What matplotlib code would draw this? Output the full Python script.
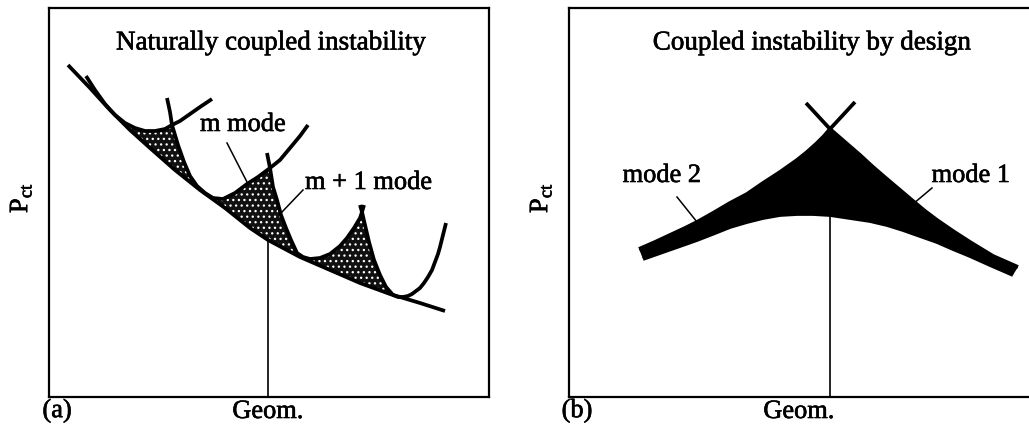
import numpy as np
import matplotlib
matplotlib.use('Agg')
import matplotlib.pyplot as plt
import matplotlib.patheffects as pe

plt.rcParams['font.family'] = ['Liberation Serif', 'DejaVu Serif']
plt.rcParams['mathtext.fontset'] = 'custom'
plt.rcParams['mathtext.rm'] = 'Liberation Serif'
plt.rcParams['hatch.linewidth'] = 0.9

# ---- (a) naturally coupled instability: modal curves and coupled envelope ----
env_a_x = np.array([19, 41, 61, 81, 101, 126, 151, 176, 201, 219, 251, 281, 311, 341, 371, 396])
env_a_y = np.array([332, 309, 287, 267, 249, 227, 207, 189, 169, 157, 140, 127, 114, 103, 94, 86])

mode1_x = np.array([37, 46, 56, 66, 76, 86, 96, 106, 116, 123, 131, 141, 151, 163])
mode1_y = np.array([321, 307, 293, 282, 274, 269, 266, 266, 268, 272, 276, 283, 290, 298])

mode2_x = np.array([118, 121, 123, 129, 135, 141, 148, 156, 164, 174, 186, 198, 209, 221, 231, 241, 251, 259])
mode2_y = np.array([299, 285, 272, 252, 235, 221, 211, 204, 199, 198, 204, 213, 220, 229, 237, 249, 261, 272])

mode3_x = np.array([218, 221, 224, 228, 232, 237, 242, 248, 254, 261, 271, 281, 291, 298, 305, 311, 313, 315])
mode3_y = np.array([244, 229, 210, 197, 182, 169, 157, 144, 140, 138, 139, 143, 151, 159, 169, 179, 185, 192])

mode4_x = np.array([311, 313, 316, 320, 325, 331, 337, 344, 349, 354, 359, 363, 367, 371, 375, 379, 383, 386, 389, 391, 394, 397])
mode4_y = np.array([192, 185, 172, 155, 137, 122, 110, 102, 100, 100, 101, 103, 106, 109, 114, 120, 127, 135, 143, 150, 162, 174])

geom_a = 219  # design geometry marked by the vertical line

# ---- (b) coupled instability by design ----
env_b_x = np.array([74, 91, 111, 128, 146, 161, 178, 194, 211, 228, 244, 261, 281, 301, 318, 334, 351, 368, 384, 401, 421, 444])
env_b_y = np.array([138, 144, 151, 157, 164, 170, 175, 179, 182, 183, 183, 182, 179, 176, 172, 167, 161, 155, 148, 141, 132, 122])

m2_b_x = np.array([70, 86, 101, 116, 128, 144, 161, 178, 194, 211, 228, 238, 248, 255, 261, 274, 286])
m2_b_y = np.array([148, 155, 162, 169, 175, 184, 194, 203, 214, 225, 237, 245, 254, 261, 268, 282, 295])

m1_b_x = np.array([237, 249, 261, 276, 291, 304, 318, 331, 344, 356, 368, 384, 401, 424, 449])
m1_b_y = np.array([294, 281, 268, 255, 242, 230, 218, 207, 196, 186, 177, 166, 155, 141, 130])

geom_b = 261


def seg(x, y, lo, hi):
    m = (x >= lo) & (x <= hi)
    return x[m], y[m]


def shaded_region(ax, up1, up2, env, x0, xc, x1, **kw):
    # region bounded above by two neighbouring modes, below by the envelope
    ax1, ay1 = seg(*up1, x0, xc)
    ax2, ay2 = seg(*up2, xc, x1)
    ex, ey = seg(*env, x0, x1)
    px = np.concatenate([ax1, ax2, ex[::-1]])
    py = np.concatenate([ay1, ay2, ey[::-1]])
    ax.fill(px, py, zorder=1, **kw)


fig = plt.figure(figsize=(10.29, 4.32), dpi=100)
W, H = 1029.0, 432.0
ax_a = fig.add_axes([49 / W, 1 - 397 / H, 440 / W, 389 / H])
ax_b = fig.add_axes([569 / W, 1 - 397 / H, 460 / W, 389 / H])

for ax in (ax_a, ax_b):
    ax.set_xticks([])
    ax.set_yticks([])
    for s in ax.spines.values():
        s.set_linewidth(1.6)
ax_a.set_xlim(0, 440)
ax_a.set_ylim(0, 389)
ax_b.set_xlim(0, 460)
ax_b.set_ylim(0, 389)
ax_b.spines['right'].set_visible(False)

lw = 2.7
heavy = [pe.withStroke(linewidth=0.45, foreground='black')]
txt = dict(fontsize=19, path_effects=heavy)
stipple = dict(facecolor='#111111', edgecolor='white', hatch='...', linewidth=0)

# panel (a)
shaded_region(ax_a, (mode1_x, mode1_y), (mode2_x, mode2_y), (env_a_x, env_a_y), 66, 123, 164, **stipple)
shaded_region(ax_a, (mode2_x, mode2_y), (mode3_x, mode3_y), (env_a_x, env_a_y), 164, 221, 254, **stipple)
shaded_region(ax_a, (mode3_x, mode3_y), (mode4_x, mode4_y), (env_a_x, env_a_y), 254, 313, 344, **stipple)

ax_a.plot(env_a_x, env_a_y, color='black', lw=lw, solid_capstyle='butt', zorder=2)
for mx, my in [(mode1_x, mode1_y), (mode2_x, mode2_y), (mode3_x, mode3_y), (mode4_x, mode4_y)]:
    ax_a.plot(mx, my, color='black', lw=lw, solid_capstyle='butt', zorder=2)

ax_a.plot([geom_a, geom_a], [0, env_a_y[env_a_x == geom_a][0]], color='black', lw=1.2, zorder=2)

ax_a.text(194, 272, 'm mode', ha='center', va='center', **txt)
ax_a.plot([178, 198], [254, 215], color='black', lw=1.1)
ax_a.text(256, 214, 'm + 1 mode', ha='left', va='center', **txt)
ax_a.plot([254, 233], [207, 185], color='black', lw=1.1)
ax_a.text(222, 354, 'Naturally coupled instability', ha='center', va='center',
          fontsize=19.5, path_effects=heavy)

# panel (b)
shaded_region(ax_b, (m2_b_x, m2_b_y), (m1_b_x, m1_b_y), (env_b_x, env_b_y), 0, 261, 460,
              facecolor='black', edgecolor='none', linewidth=0)
ax_b.plot(env_b_x, env_b_y, color='black', lw=lw, solid_capstyle='butt', zorder=2)
ax_b.plot(m2_b_x, m2_b_y, color='black', lw=lw, solid_capstyle='butt', zorder=2)
ax_b.plot(m1_b_x, m1_b_y, color='black', lw=lw, solid_capstyle='butt', zorder=2)
ax_b.plot([geom_b, geom_b], [0, env_b_y[env_b_x == geom_b][0]], color='black', lw=1.2, zorder=2)

ax_b.text(93, 221, 'mode 2', ha='center', va='center', **txt)
ax_b.plot([108, 128], [200, 175], color='black', lw=1.1)
ax_b.text(402, 221, 'mode 1', ha='center', va='center', **txt)
ax_b.plot([363, 344], [209, 193], color='black', lw=1.1)
ax_b.text(243, 354, 'Coupled instability by design', ha='center', va='center',
          fontsize=19.5, path_effects=heavy)

# axis captions
for xp, ypos in [(21, 198), (541, 198)]:
    fig.text(xp / W, 1 - ypos / H, r'P$_\mathregular{ct}$', rotation=90,
             ha='center', va='center', **txt)
fig.text(57 / W, 1 - 411 / H, '(a)', ha='center', va='center', **txt)
fig.text(268 / W, 1 - 412 / H, 'Geom.', ha='center', va='center', **txt)
fig.text(577 / W, 1 - 411 / H, '(b)', ha='center', va='center', **txt)
fig.text(799 / W, 1 - 412 / H, 'Geom.', ha='center', va='center', **txt)

fig.savefig('out.png', dpi=100)
